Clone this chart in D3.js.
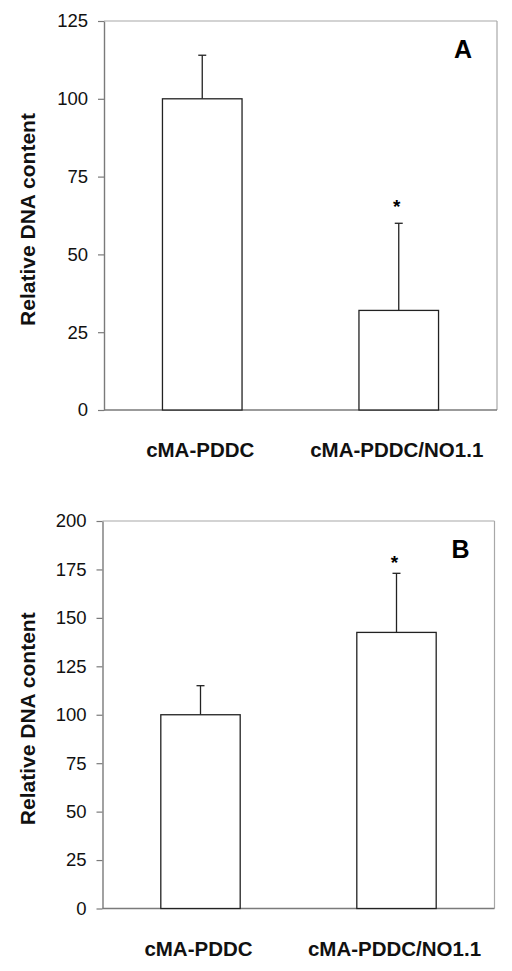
<!DOCTYPE html>
<html>
<head>
<meta charset="utf-8">
<script src="https://cdn.jsdelivr.net/npm/d3@7/dist/d3.min.js"></script>
<style>
  html, body { margin: 0; padding: 0; background: #fff; }
  svg { display: block; font-family: "Liberation Sans", Arial, sans-serif; }
</style>
</head>
<body>
<svg id="chart" width="512" height="971"></svg>
<script>
// ---- data ----
const categories = ["cMA-PDDC", "cMA-PDDC/NO1.1"];
const valuesA = [100, 32];
const errorsA = [14, 28];
const significantA = [false, true];
const ticksA = [0, 25, 50, 75, 100, 125];

const valuesB = [100, 142.5];
const errorsB = [15, 30.5];
const significantB = [false, true];
const ticksB = [0, 25, 50, 75, 100, 125, 150, 175, 200];

const panelLabels = ["A", "B"];
const yTitle = "Relative DNA content";

// ---- layout ----
const panels = [
  { label: panelLabels[0], values: valuesA, errors: errorsA, sig: significantA, ticks: ticksA,
    left: 104, top: 21, right: 497, bottom: 410, starGap: 23 },
  { label: panelLabels[1], values: valuesB, errors: errorsB, sig: significantB, ticks: ticksB,
    left: 102.5, top: 521, right: 494.5, bottom: 908.5, starGap: 17 }
];

const svg = d3.select("#chart");
const axisColor = "#7a7a7a";
const borderColor = "#a8a8a8";
const barColor = "#222";

panels.forEach(p => {
  const g = svg.append("g");
  const x = d3.scaleBand().domain(categories).range([p.left, p.right]).padding(0);
  const y = d3.scaleLinear().domain([0, d3.max(p.ticks)]).range([p.bottom, p.top]);
  const bw = x.bandwidth() * 0.405;

  // border top & right
  g.append("line").attr("x1", p.left).attr("x2", p.right).attr("y1", p.top).attr("y2", p.top)
    .attr("stroke", borderColor).attr("stroke-width", 1.2);
  g.append("line").attr("x1", p.right).attr("x2", p.right).attr("y1", p.top).attr("y2", p.bottom)
    .attr("stroke", borderColor).attr("stroke-width", 1.2);

  // y axis
  const yAxis = g.append("g").attr("transform", `translate(${p.left},0)`)
    .call(d3.axisLeft(y).tickValues(p.ticks).tickFormat(d3.format("d")).tickSizeInner(6).tickSizeOuter(0).tickPadding(10));
  yAxis.select(".domain").attr("stroke", axisColor).attr("stroke-width", 1.4);
  yAxis.selectAll(".tick line").attr("stroke", axisColor).attr("stroke-width", 1.2);
  yAxis.selectAll(".tick text").attr("fill", "#111").style("font-size", "18.5px")
    .style("font-family", "'Liberation Sans', Arial, sans-serif");

  // x axis line
  g.append("line").attr("x1", p.left).attr("x2", p.right).attr("y1", p.bottom).attr("y2", p.bottom)
    .attr("stroke", axisColor).attr("stroke-width", 1.6);

  // error bars (upper only)
  categories.forEach((c, i) => {
    const cx = x(c) + x.bandwidth() / 2;
    const yTop = y(p.values[i] + p.errors[i]);
    g.append("line").attr("x1", cx).attr("x2", cx).attr("y1", y(p.values[i])).attr("y2", yTop)
      .attr("stroke", barColor).attr("stroke-width", 1.3);
    g.append("line").attr("x1", cx - 4).attr("x2", cx + 4).attr("y1", yTop).attr("y2", yTop)
      .attr("stroke", barColor).attr("stroke-width", 1.3);
    if (p.sig[i]) {
      g.append("text").attr("x", cx - 2).attr("y", yTop - p.starGap)
        .attr("text-anchor", "middle").attr("dominant-baseline", "central")
        .attr("dy", "0.35em")
        .style("font-size", "19px").style("font-weight", "bold").text("*");
    }
  });

  // bars
  g.selectAll("rect.bar").data(categories).enter().append("rect")
    .attr("class", "bar")
    .attr("x", c => x(c) + x.bandwidth() / 2 - bw / 2)
    .attr("width", bw)
    .attr("y", (c, i) => y(p.values[i]))
    .attr("height", (c, i) => y(0) - y(p.values[i]))
    .attr("fill", "#fff").attr("stroke", barColor).attr("stroke-width", 1.3);

  // category labels
  g.selectAll("text.cat").data(categories).enter().append("text")
    .attr("class", "cat")
    .attr("x", c => x(c) + x.bandwidth() / 2 - 2)
    .attr("y", p.bottom + 47)
    .attr("text-anchor", "middle")
    .style("font-size", "20.5px").style("font-weight", "bold").attr("fill", "#111")
    .text(c => c);

  // y title
  g.append("text")
    .attr("transform", `translate(35,${(p.top + p.bottom) / 2 + 4}) rotate(-90)`)
    .attr("text-anchor", "middle")
    .style("font-size", "21px").style("font-weight", "bold").attr("fill", "#111")
    .text(yTitle);

  // panel label
  g.append("text")
    .attr("x", p.right - 34).attr("y", p.top + 37)
    .attr("text-anchor", "middle")
    .style("font-size", "25px").style("font-weight", "bold").attr("fill", "#000")
    .text(p.label);
});
</script>
</body>
</html>
